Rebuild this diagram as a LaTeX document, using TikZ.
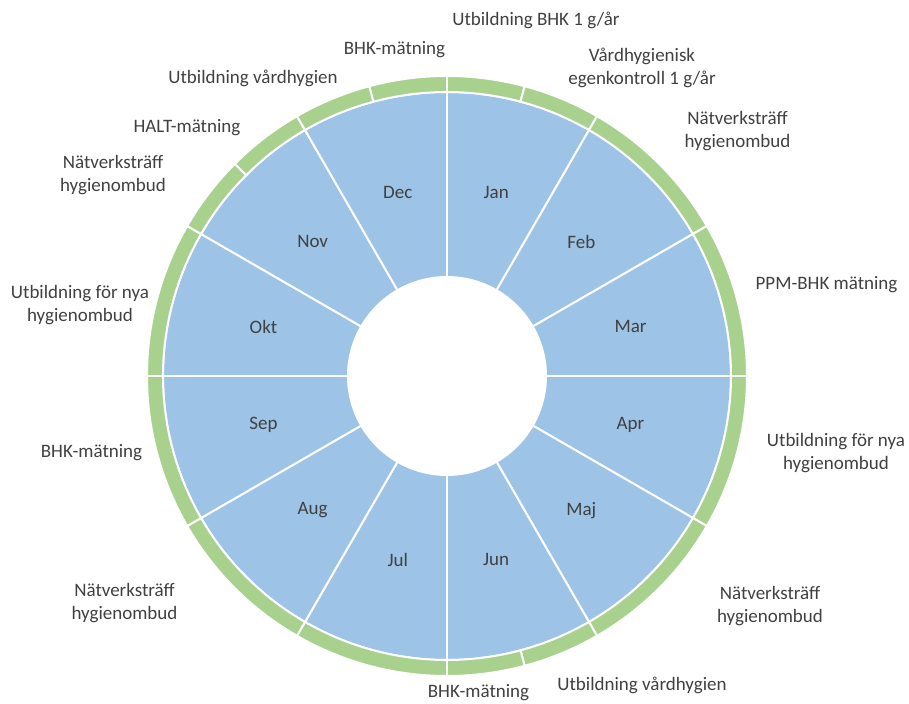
\documentclass[tikz,border=0pt]{standalone}
\usepackage{fontspec}
\setmainfont{Carlito}
\usepackage{tikz}

\definecolor{monthblue}{HTML}{9DC3E6}
\definecolor{ringgreen}{HTML}{A9D18E}
\definecolor{textgray}{HTML}{404040}

\tikzset{
  month/.style={fill=monthblue, draw=white, line width=1.4pt},
  ring/.style={fill=ringgreen, draw=white, line width=1.4pt},
  lbl/.style={text=textgray, font=\fontsize{13.5}{16.4}\selectfont, align=center, inner sep=0pt},
}

\begin{document}
\begin{tikzpicture}[x=0.025cm, y=0.025cm]
      \useasboundingbox (-447,-328) rectangle (462,376);
      % Month sectors
      \foreach \m [count=\i from 0] in {Jan,Feb,Mar,Apr,Maj,Jun,Jul,Aug,Sep,Okt,Nov,Dec} {
        \pgfmathsetmacro\a{90-30*\i}
        \pgfmathsetmacro\b{\a-30}
        \pgfmathsetmacro\c{\a-15}
        \filldraw[month] (0,0) -- (\a:284) arc[start angle=\a, end angle=\b, radius=284] -- cycle;
        \node[lbl] (\m) at (\c:190) {\m};
      }
      \fill[white] (0,0) circle (100);
      % Outer ring
      \foreach \a/\b in {90/75, 75/60, 60/30, 30/0, 0/-30, -30/-60, -60/-75, -75/-90,
                         -90/-120, -120/-150, -150/-180, 180/150, 150/135, 135/120, 120/105, 105/90}
        \filldraw[ring] (\a:284) arc[start angle=\a, end angle=\b, radius=284]
          -- (\b:300) arc[start angle=\b, end angle=\a, radius=300] -- cycle;
      % Define nodes
      \node[lbl] (utbbhk)   at (89,356)     {Utbildning BHK 1 g/år};
      \node[lbl] (egenkontr) at (195,308.5) {Vårdhygienisk\\egenkontroll 1 g/år};
      \node[lbl] (natv1)    at (290.5,244.5) {Nätverksträff\\hygienombud};
      \node[lbl] (ppm)      at (379.5,91)   {PPM-BHK mätning};
      \node[lbl] (nya1)     at (389,-77.5)  {Utbildning för nya\\hygienombud};
      \node[lbl] (natv2)    at (323,-230)   {Nätverksträff\\hygienombud};
      \node[lbl] (vard1)    at (195,-309)   {Utbildning vårdhygien};
      \node[lbl] (bhk1)     at (31.5,-317)  {BHK-mätning};
      \node[lbl] (natv3)    at (-322.5,-227) {Nätverksträff\\hygienombud};
      \node[lbl] (bhk2)     at (-355.5,-77) {BHK-mätning};
      \node[lbl] (nya2)     at (-367,71)    {Utbildning för nya\\hygienombud};
      \node[lbl] (natv4)    at (-334,201)   {Nätverksträff\\hygienombud};
      \node[lbl] (halt)     at (-260,248)   {HALT-mätning};
      \node[lbl] (vard2)    at (-194,298)   {Utbildning vårdhygien};
      \node[lbl] (bhk3)     at (-52.5,326)  {BHK-mätning};
\end{tikzpicture}
\end{document}
